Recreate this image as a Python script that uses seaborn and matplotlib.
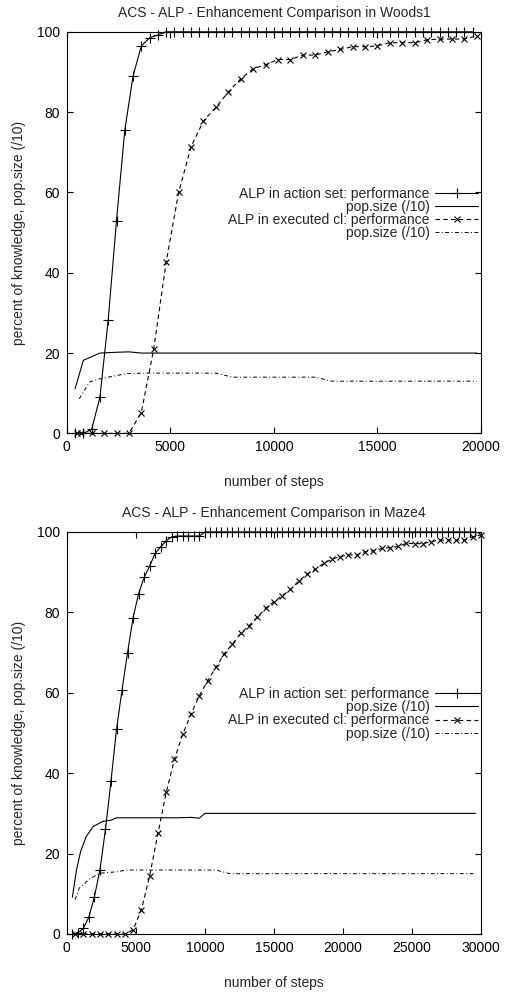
import matplotlib
matplotlib.use('Agg')
import matplotlib.pyplot as plt
import seaborn as sns
import pandas as pd

# ---------------- Woods1 ----------------
woods_as_steps = [400, 800, 1200, 1600, 2000, 2400, 2800, 3200, 3600, 4000, 4400, 4800,
                  5200, 5600, 6000, 6400, 6800, 7200, 7600, 8000, 8400, 8800, 9200, 9600,
                  10000, 10400, 10800, 11200, 11600, 12000, 12400, 12800, 13200, 13600,
                  14000, 14400, 14800, 15200, 15600, 16000, 16400, 16800, 17200, 17600,
                  18000, 18400, 18800, 19200, 19600]
woods_as_perf = [0, 0, 1, 9, 28.3, 53, 75.5, 89, 96.5, 98.5, 99.2] + [100] * 38

woods_as_pop_steps = [400, 800, 1600, 2400, 3000, 3600, 19800]
woods_as_pop = [11.1, 18.2, 20, 20.2, 20.3, 20, 20]

woods_ex_steps = [500, 700, 1200, 1800, 2400, 3000, 3600, 4200, 4800, 5400, 6000, 6600,
                  7200, 7800, 8400, 9000, 9600, 10200, 10800, 11400, 12000, 12600, 13200,
                  13800, 14400, 15000, 15600, 16200, 16800, 17400, 18000, 18600, 19200, 19800]
woods_ex_perf = [0, 0, 0, 0, 0, 0, 5.2, 21.1, 42.7, 60, 71.4, 77.8, 81.2, 85, 88.3, 90.8,
                 91.8, 93.1, 93.1, 94.2, 94.2, 95, 95.6, 96.3, 96.3, 96.5, 97.3, 97.3, 97.3,
                 98, 98.2, 98.2, 98.2, 99]

woods_ex_pop_steps = [600, 1100, 1600, 2900, 3800, 7200, 8000, 12000, 12800, 19800]
woods_ex_pop = [8.6, 12.8, 13.6, 14.9, 15, 15, 14, 14, 13, 13]

# ---------------- Maze4 ----------------
maze_as_steps = [400, 800, 1200, 1600, 2000, 2400, 2800, 3200, 3600, 4000, 4400, 4800,
                 5200, 5600, 6000, 6400, 6800, 7200, 7600, 8000, 8400, 8800, 9200, 9600,
                 10000, 10400, 10800, 11200, 11600, 12000, 12400, 12800, 13200, 13600,
                 14000, 14400, 14800, 15200, 15600, 16000, 16400, 16800, 17200, 17600,
                 18000, 18400, 18800, 19200, 19600, 20000, 20400, 20800, 21200, 21600,
                 22000, 22400, 22800, 23200, 23600, 24000, 24400, 24800, 25200, 25600,
                 26000, 26400, 26800, 27200, 27600, 28000, 28400, 28800, 29200, 29600]
maze_as_perf = [0, 0.3, 1.4, 4.2, 9.3, 15.9, 26, 38, 50.9, 60.7, 70, 78.7, 84.6, 88.7,
                91.5, 94.7, 96.3, 97.8, 98.8, 99, 99, 99, 99, 99] + [100] * 50

maze_as_pop_steps = [400, 700, 1000, 1400, 1900, 2600, 3200, 3600, 8000, 9000, 9600, 10000, 29600]
maze_as_pop = [9.1, 15.9, 20.5, 24.2, 26.7, 28, 28.3, 28.9, 28.9, 29, 28.8, 30, 30]

maze_ex_steps = [600, 1200, 1800, 2400, 3000, 3600, 4200, 4800, 5400, 6000, 6600, 7200,
                 7800, 8400, 9000, 9600, 10200, 10800, 11400, 12000, 12600, 13200, 13800,
                 14400, 15000, 15600, 16200, 16800, 17400, 18000, 18600, 19200, 19800,
                 20400, 21000, 21600, 22200, 22800, 23400, 24000, 24600, 25200, 25800,
                 26400, 27000, 27600, 28200, 28800, 29400, 30000]
maze_ex_perf = [0, 0, 0, 0, 0, 0, 0, 1, 6, 14.4, 25, 35.2, 43.5, 49.7, 54.7, 59.3, 63,
                66.3, 69.7, 72.1, 74.8, 76.7, 78.8, 81, 82.7, 84.1, 85.7, 87.8, 89.5, 90.7,
                92.2, 93.2, 93.9, 94.3, 94.3, 95.1, 95.3, 95.9, 96.1, 96.4, 97.2, 97.1, 97.1,
                97.6, 98, 98, 98, 98, 98.8, 99.3]

maze_ex_pop_steps = [600, 900, 1700, 2400, 3700, 4300, 10800, 11800, 29600]
maze_ex_pop = [8.5, 11.4, 13.8, 15.1, 15.5, 15.9, 15.9, 15, 15]

labels = ['ALP in action set: performance', 'pop.size (/10)',
          'ALP in executed cl: performance', 'pop.size (/10)']

sns.set_style('ticks')
plt.rcParams['font.family'] = ['Liberation Sans', 'DejaVu Sans']
plt.rcParams['font.size'] = 10
plt.rcParams['axes.linewidth'] = 0.8


def draw(ax, title, xmax, as_x, as_y, asp_x, asp_y, ex_x, ex_y, exp_x, exp_y):
    sns.lineplot(x=as_x, y=as_y, ax=ax, color='black', lw=0.8, marker='+', ms=6.5,
                 mec='black', mew=0.8, label=labels[0], clip_on=False)
    sns.lineplot(x=asp_x, y=asp_y, ax=ax, color='black', lw=0.8, label=labels[1])
    sns.lineplot(x=ex_x, y=ex_y, ax=ax, color='black', lw=0.8, linestyle=(0, (4, 3)),
                 marker='x', ms=5, mec='black', mew=0.8, label=labels[2], clip_on=False)
    sns.lineplot(x=exp_x, y=exp_y, ax=ax, color='black', lw=0.7,
                 linestyle=(0, (4, 2.5, 1, 2.5)), label=labels[3])
    ax.set_xlim(0, xmax)
    ax.set_ylim(0, 100)
    ax.set_xticks(range(0, xmax + 1, 5000))
    ax.set_yticks(range(0, 101, 20))
    ax.tick_params(direction='in', top=True, right=True, length=4.5, width=0.8, pad=5,
                   labelsize=10, colors='black')
    for s in ax.spines.values():
        s.set_visible(True)
        s.set_color('black')
    ax.set_title(title, fontsize=10, pad=11)
    ax.set_xlabel('number of steps', labelpad=15)
    ax.set_ylabel('percent of knowledge, pop.size (/10)', labelpad=8)
    leg = ax.legend(loc='upper right', bbox_to_anchor=(0.994, 0.614), frameon=False,
                    markerfirst=False, handlelength=3.1, handletextpad=0.4,
                    labelspacing=-0.06, borderaxespad=0, borderpad=0, fontsize=10)
    vp = leg._legend_box._children[-1]._children[0]
    vp.align = 'right'


fig = plt.figure(figsize=(5.1, 9.94), dpi=100)
ax1 = fig.add_axes([0.131, 0.564, 0.812, 0.404])
ax2 = fig.add_axes([0.131, 0.0604, 0.812, 0.4044])

draw(ax1, 'ACS - ALP - Enhancement Comparison in Woods1', 20000,
     woods_as_steps, woods_as_perf, woods_as_pop_steps, woods_as_pop,
     woods_ex_steps, woods_ex_perf, woods_ex_pop_steps, woods_ex_pop)
draw(ax2, 'ACS - ALP - Enhancement Comparison in Maze4', 30000,
     maze_as_steps, maze_as_perf, maze_as_pop_steps, maze_as_pop,
     maze_ex_steps, maze_ex_perf, maze_ex_pop_steps, maze_ex_pop)

fig.savefig('out.png', dpi=100)
